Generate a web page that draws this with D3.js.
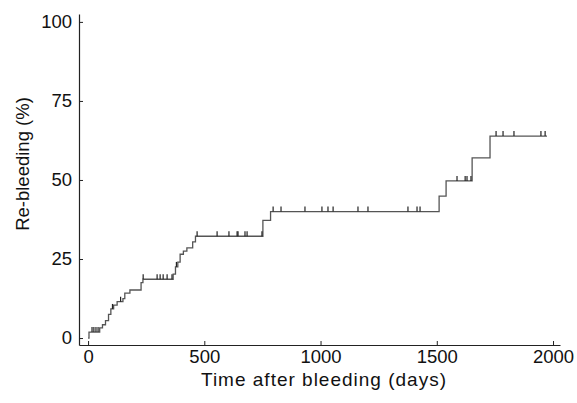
<!DOCTYPE html>
<html>
<head>
<meta charset="utf-8">
<script src="https://cdn.jsdelivr.net/npm/d3@7"></script>
<style>
  body { margin: 0; background: #fff; }
  text { font-family: "Liberation Sans", Arial, sans-serif; fill: #111; }
</style>
</head>
<body>
<svg id="chart"></svg>
<script>
// step events: day at which cumulative re-bleeding changes, and new value (%)
const stepDays = [0, 4, 50, 62, 75, 88, 98, 110, 125, 150, 158, 180, 228, 236,
  366, 376, 386, 396, 410, 425, 450, 462, 752, 785, 1510, 1540, 1652, 1729, 1974];
const stepValues = [0, 1.9, 3.2, 4.2, 5.5, 7.5, 9.2, 10.4, 11.5, 12.5, 14.2, 15.2, 17.5, 18.6,
  20.2, 22.5, 24, 26.5, 27.5, 28.5, 30.4, 32.2, 37.2, 40, 44.9, 49.7, 57, 63.9, 63.9];

// censored observations (days)
const censorDays = [17, 25, 34, 43, 105, 140, 237, 297, 310, 323, 340, 361, 380,
  469, 555, 606, 641, 645, 675, 684, 748,
  796, 830, 933, 1006, 1032, 1054, 1161, 1204, 1376, 1415, 1428,
  1587, 1622, 1630, 1647,
  1755, 1785, 1832, 1948, 1966];

const xTicks = [0, 500, 1000, 1500, 2000];
const yTicks = [0, 25, 50, 75, 100];

const W = 577, H = 403;
const svg = d3.select("#chart").attr("width", W).attr("height", H);

const x = d3.scaleLinear().domain([-39, 2030]).range([79, 560]);
const y = d3.scaleLinear().domain([-2.2, 102.5]).range([345, 14]);

// axes (ticks point inward)
const xAxis = d3.axisBottom(x).tickValues(xTicks).tickFormat(d3.format("d"))
  .tickSizeInner(-4).tickSizeOuter(0).tickPadding(5);
const yAxis = d3.axisLeft(y).tickValues(yTicks).tickFormat(d3.format("d"))
  .tickSizeInner(-4).tickSizeOuter(0).tickPadding(7);

const gx = svg.append("g").attr("transform", "translate(0,345)").call(xAxis);
const gy = svg.append("g").attr("transform", "translate(79,0)").call(yAxis);

[gx, gy].forEach(g => {
  g.select(".domain").attr("stroke", "#222").attr("stroke-width", 1.2);
  g.selectAll(".tick line").attr("stroke", "#222");
  g.selectAll(".tick text").attr("font-size", 18.5).attr("fill", "#111")
    .attr("font-family", "Liberation Sans, Arial, sans-serif");
});

// step curve
const pts = stepDays.map((d, i) => [d, stepValues[i]]);
const line = d3.line()
  .x(d => x(d[0]))
  .y(d => y(d[1]))
  .curve(d3.curveStepAfter);

svg.append("path")
  .datum(pts)
  .attr("fill", "none")
  .attr("stroke", "#555")
  .attr("stroke-width", 1.3)
  .attr("d", line);

// value of the curve at a given day
function valueAt(t) {
  let v = 0;
  for (let i = 0; i < stepDays.length; i++) {
    if (stepDays[i] <= t) v = stepValues[i];
  }
  return v;
}

svg.append("g").selectAll("line")
  .data(censorDays)
  .enter()
  .append("line")
  .attr("x1", d => x(d))
  .attr("x2", d => x(d))
  .attr("y1", d => y(valueAt(d)))
  .attr("y2", d => y(valueAt(d)) - 5)
  .attr("stroke", "#222")
  .attr("stroke-width", 1.2);

// axis titles
svg.append("text")
  .attr("x", 324)
  .attr("y", 386)
  .attr("text-anchor", "middle")
  .attr("font-size", 19)
  .attr("letter-spacing", 1)
  .text("Time after bleeding (days)");

svg.append("text")
  .attr("transform", "translate(29,164) rotate(-90)")
  .attr("text-anchor", "middle")
  .attr("font-size", 18.5)
  .text("Re-bleeding (%)");
</script>
</body>
</html>
